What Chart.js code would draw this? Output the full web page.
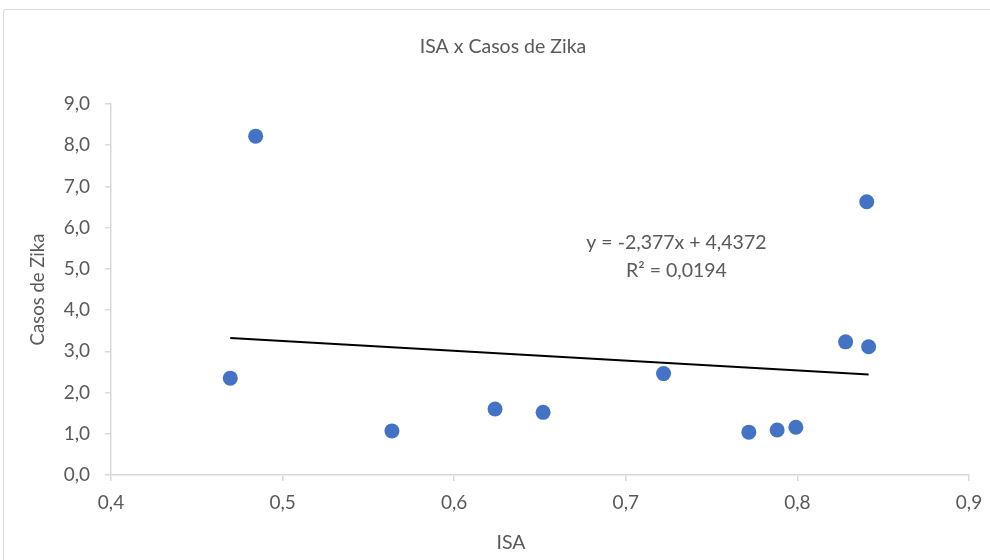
<!DOCTYPE html>
<html>
<head>
<meta charset="utf-8">
<script src="https://cdn.jsdelivr.net/npm/chart.js@4.4.1/dist/chart.umd.min.js"></script>
<style>
    html, body { margin: 0; padding: 0; background: #fff; }
    #wrap { position: relative; width: 990px; height: 560px; overflow: hidden; }
    #frame { position: absolute; left: 3px; top: 9px; width: 1000px; height: 600px; border: 1px solid #d9d9d9; border-radius: 3px; box-sizing: border-box; }
    canvas { position: absolute; left: 0; top: 0; }
</style>
</head>
<body>
<div id="wrap">
    <div id="frame"></div>
    <canvas id="chart" width="990" height="560"></canvas>
</div>
<script>
    // values
    const isa = [0.4695, 0.4843, 0.5637, 0.6238, 0.6518, 0.722, 0.7717, 0.7882, 0.7991, 0.8281, 0.8404, 0.8415];
    const casos = [2.35, 8.22, 1.07, 1.60, 1.52, 2.46, 1.04, 1.09, 1.16, 3.23, 6.63, 3.11];
    const xTicks = [0.4, 0.5, 0.6, 0.7, 0.8, 0.9];
    const yTicks = [0, 1, 2, 3, 4, 5, 6, 7, 8, 9];

    // trendline as printed on the chart
    const slope = -2.377;
    const intercept = 4.4372;
    const rSquared = '0,0194';

    const FONT = 'Lato, "Open Sans", sans-serif';
    const TEXT = '#595959';
    const AXIS = '#d9d9d9';

    const fmt = (v, d) => Number(v).toFixed(d).replace('.', ',');

    const xMin = Math.min(...isa);
    const xMax = Math.max(...isa);
    const trend = [xMin, xMax].map(x => ({ x, y: slope * x + intercept }));

    // chart title, x-axis title and the trendline label (Excel puts them off-centre)
    const labels = {
        id: 'labels',
        afterDatasetsDraw(chart) {
            const { ctx, scales, chartArea } = chart;
            ctx.save();
            ctx.font = '19.5px ' + FONT;
            ctx.fillStyle = TEXT;
            ctx.textAlign = 'center';
            ctx.textBaseline = 'middle';

            ctx.fillText('ISA x Casos de Zika', 503, 47);
            ctx.fillText('ISA', (chartArea.left + chartArea.right) / 2 - 29, 543);

            const cx = scales.x.getPixelForValue(0.7295);
            const cy = scales.y.getPixelForValue(5.63);
            ctx.fillText('y = ' + fmt(slope, 3) + 'x + ' + fmt(intercept, 4), cx, cy);
            ctx.fillText('R² = ' + rSquared, cx, cy + 28);
            ctx.restore();
        }
    };

    new Chart(document.getElementById('chart'), {
        type: 'scatter',
        data: {
            datasets: [
                {
                    label: 'Casos de Zika',
                    data: isa.map((x, i) => ({ x, y: casos[i] })),
                    backgroundColor: '#4472c4',
                    borderColor: '#4472c4',
                    pointRadius: 7.5,
                    pointBorderWidth: 0
                },
                {
                    type: 'line',
                    label: 'Linear',
                    data: trend,
                    borderColor: '#000000',
                    borderWidth: 2,
                    pointRadius: 0,
                    fill: false
                }
            ]
        },
        options: {
            responsive: false,
            animation: false,
            layout: { padding: { left: 0, right: 21, top: 104, bottom: 0 } },
            plugins: {
                legend: { display: false },
                tooltip: { enabled: false },
                title: { display: false }
            },
            scales: {
                x: {
                    type: 'linear',
                    min: 0.4,
                    max: 0.9,
                    afterBuildTicks: axis => { axis.ticks = xTicks.map(v => ({ value: v })); },
                    afterFit: axis => {
                        axis.height = 85;
                        axis.paddingLeft = 0;
                        axis.paddingRight = 0;
                    },
                    border: { color: AXIS, width: 1.5 },
                    grid: { drawOnChartArea: false, drawTicks: true, tickLength: 6, color: AXIS, lineWidth: 1.5 },
                    ticks: {
                        color: TEXT,
                        padding: 10,
                        font: { family: FONT, size: 19 },
                        callback: v => fmt(v, 1)
                    }
                },
                y: {
                    min: 0,
                    max: 9,
                    afterBuildTicks: axis => { axis.ticks = yTicks.map(v => ({ value: v })); },
                    afterFit: axis => { axis.width = 111; },
                    border: { color: AXIS, width: 1.5 },
                    grid: { display: true, drawOnChartArea: false, drawTicks: true, tickLength: 6, color: AXIS, lineWidth: 1.5 },
                    ticks: {
                        color: TEXT,
                        padding: 15,
                        font: { family: FONT, size: 19 },
                        callback: v => fmt(v, 1)
                    },
                    title: {
                        display: true,
                        text: 'Casos de Zika',
                        color: TEXT,
                        font: { family: FONT, size: 18.5 },
                        padding: { top: 27, bottom: 0 }
                    }
                }
            }
        },
        plugins: [labels]
    });
</script>
</body>
</html>
